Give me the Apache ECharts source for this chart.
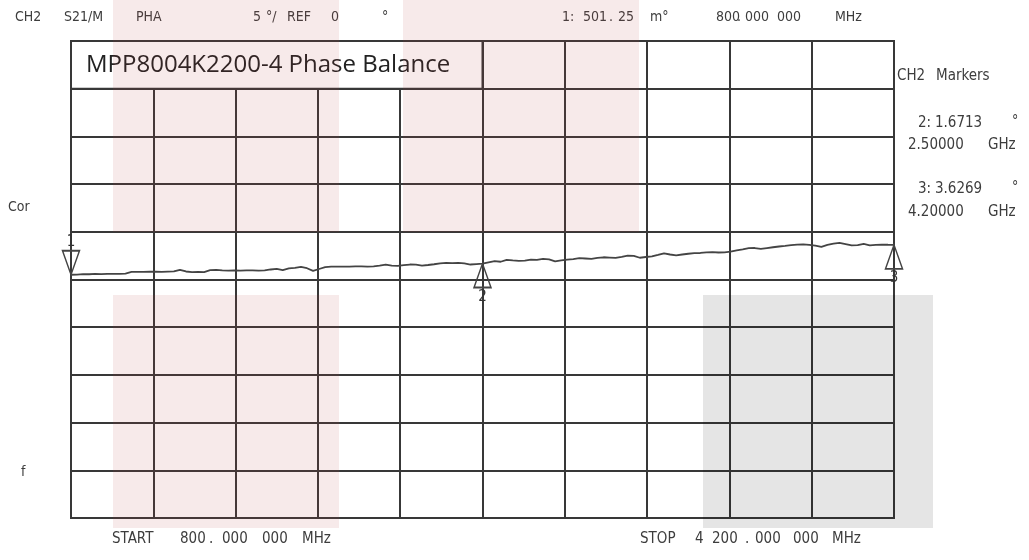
<!DOCTYPE html>
<html><head><meta charset="utf-8">
<script src="https://cdn.jsdelivr.net/npm/echarts/dist/echarts.min.js"></script>
<style>html,body{margin:0;padding:0;background:#fff}#c{width:1029px;height:560px}</style>
</head><body><div id="c"></div>
<script>
// ---- data ----
const freqMHz = [
  800,825,850,875,900,925,950,975,
  1000,1025,1050,1075,1100,1125,1150,1175,
  1200,1225,1250,1275,1300,1325,1350,1375,
  1400,1425,1450,1475,1500,1525,1550,1575,
  1600,1625,1650,1675,1700,1725,1750,1775,
  1800,1825,1850,1875,1900,1925,1950,1975,
  2000,2025,2050,2075,2100,2125,2150,2175,
  2200,2225,2250,2275,2300,2325,2350,2375,
  2400,2425,2450,2475,2500,2525,2550,2575,
  2600,2625,2650,2675,2700,2725,2750,2775,
  2800,2825,2850,2875,2900,2925,2950,2975,
  3000,3025,3050,3075,3100,3125,3150,3175,
  3200,3225,3250,3275,3300,3325,3350,3375,
  3400,3425,3450,3475,3500,3525,3550,3575,
  3600,3625,3650,3675,3700,3725,3750,3775,
  3800,3825,3850,3875,3900,3925,3950,3975,
  4000,4025,4050,4075,4100,4125,4150,4175,
  4200];
const phaseDeg = [
  0.50,0.52,0.56,0.55,0.58,0.57,0.60,0.59,
  0.60,0.62,0.79,0.80,0.80,0.81,0.82,0.80,
  0.83,0.86,1.02,0.84,0.78,0.79,0.77,0.98,
  1.00,0.95,0.93,0.95,0.94,0.96,0.95,0.94,
  0.96,1.05,1.12,0.98,1.16,1.22,1.32,1.18,
  0.90,1.10,1.30,1.34,1.36,1.35,1.36,1.37,
  1.37,1.36,1.38,1.45,1.56,1.46,1.42,1.50,
  1.57,1.55,1.45,1.52,1.60,1.70,1.74,1.72,
  1.75,1.68,1.57,1.62,1.67,1.80,1.92,1.86,
  2.06,2.00,1.96,1.98,2.08,2.06,2.16,2.10,
  1.90,2.00,2.08,2.14,2.23,2.20,2.17,2.26,
  2.33,2.30,2.27,2.38,2.51,2.48,2.28,2.36,
  2.42,2.58,2.75,2.62,2.54,2.62,2.70,2.76,
  2.78,2.84,2.86,2.83,2.85,2.92,3.05,3.16,
  3.28,3.30,3.22,3.30,3.38,3.46,3.52,3.60,
  3.66,3.68,3.63,3.56,3.42,3.62,3.76,3.84,
  3.72,3.58,3.60,3.74,3.58,3.62,3.66,3.64,
  3.63];
const markerNames = ['1','2','3'];
const markerFreqMHz = [800, 2500, 4200];
const markerPhaseDeg = [0.50125, 1.6713, 3.6269];
const titleText = 'MPP8004K2200-4 Phase Balance';
const startFreq = 800, stopFreq = 4200;
const refDeg = 0, scaleDegPerDiv = 5, divisions = 10;

// ---- text items (strings) ----
const headerTokens = ['CH2','S21/M','PHA','5','°/','REF','0','°','1:','501','.','25','m°','800','.','000','000','MHz'];
const headerX      = [15,64,136,253,266,287,331,382,562,583,609,618,650,716,737,745,777,835];
const sideTokens = ['CH2','Markers','2:','1.6713','°','2.50000','GHz','3:','3.6269','°','4.20000','GHz'];
const sideX      = [897,936,918,935,1012,908,988,918,935,1012,908,988];
const sideY      = [76,76,123,123,121,145,145,189,189,187,212,212];
const leftTokens = ['Cor','f'];
const leftX = [8,21], leftY = [207,472];
const bottomTokens = ['START','800','.','000','000','MHz','STOP','4','200','.','000','000','MHz'];
const bottomX      = [112,180,209,222,262,302,640,695,712,745,755,793,832];

const FONT = '"DejaVu Sans Condensed","Liberation Sans Narrow",sans-serif';
const chart = echarts.init(document.getElementById('c'), null, {renderer:'canvas'});

function txt(t, x, y, size, color){
  return {type:'text', x:x, y:y, z:50, silent:true,
    style:{text:t, fill:color||'#3d3d3d', fontSize:size, fontFamily:FONT, verticalAlign:'middle', align:'left'}};
}
const graphics = [];
headerTokens.forEach((t,i)=>graphics.push(txt(t, headerX[i], 17, 14)));
sideTokens.forEach((t,i)=>graphics.push(txt(t, sideX[i], sideY[i], t==='°'?14:15)));
leftTokens.forEach((t,i)=>graphics.push(txt(t, leftX[i], leftY[i], 14)));
bottomTokens.forEach((t,i)=>graphics.push(txt(t, bottomX[i], 539, 15)));
// watermark-like overlay blocks
function rect(x,y,w,h,c){return {type:'rect', z:100, silent:true, shape:{x:x,y:y,width:w,height:h}, style:{fill:c}};}
graphics.push(rect(113,0,226,232,'rgba(180,60,60,0.11)'));
graphics.push(rect(403,0,236,232,'rgba(180,60,60,0.11)'));
graphics.push(rect(113,295,226,233,'rgba(180,60,60,0.11)'));
graphics.push(rect(703,295,230,233,'rgba(0,0,0,0.10)'));

const downTri = 'path://M0,0 L10,0 L5,14 Z';
const upTri = 'path://M5,0 L10,14 L0,14 Z';
const gridLine = {color:'#383838', width:2};

const option = {
  backgroundColor:'#fff',
  animation:false,
  grid:{left:71, top:41, width:823, height:477, show:true, borderColor:'#383838', borderWidth:2, backgroundColor:'transparent'},
  xAxis:[
    {type:'value', min:startFreq, max:stopFreq, show:false},
    {type:'value', min:0, max:divisions, interval:1, position:'bottom',
     axisLine:{show:false}, axisTick:{show:false}, axisLabel:{show:false}, splitLine:{show:true, lineStyle:gridLine}}
  ],
  yAxis:{type:'value', min:refDeg - scaleDegPerDiv*divisions/2, max:refDeg + scaleDegPerDiv*divisions/2, interval:scaleDegPerDiv,
     axisLine:{show:false}, axisTick:{show:false}, axisLabel:{show:false}, splitLine:{show:true, lineStyle:gridLine}},
  graphic: graphics,
  series:[{
    type:'line', xAxisIndex:0, yAxisIndex:0,
    data: freqMHz.map((f,i)=>[f, phaseDeg[i]]),
    showSymbol:false, symbol:'none',
    lineStyle:{color:'#444', width:1.8},
    markArea:{silent:true,
      itemStyle:{color:'#fff', borderColor:'#383838', borderWidth:2},
      label:{show:true, position:'insideLeft', distance:16, color:'#222', fontSize:24, fontFamily:'"Open Sans","Noto Sans",sans-serif'},
      data:[[{name:titleText, xAxis:startFreq, yAxis:refDeg + scaleDegPerDiv*4},{xAxis:markerFreqMHz[1], yAxis:refDeg + scaleDegPerDiv*5}]]
    },
    markPoint:{silent:true,
      itemStyle:{color:'rgba(255,255,255,0)', borderColor:'#444', borderWidth:1.6},
      label:{show:true, color:'#333', fontSize:15, fontFamily:FONT},
      data: markerNames.map((n,i)=>({
        name:n, coord:[markerFreqMHz[i], markerPhaseDeg[i]], value:n,
        symbol: i===0?downTri:upTri, symbolSize:[17,24], symbolKeepAspect:false,
        symbolOffset:[0, i===0?'-50%':'50%'],
        label:{formatter:n, position: i===0?'top':'bottom', distance: i===0?0:1}
      }))
    }
  }]
};
chart.setOption(option);
</script></body></html>
